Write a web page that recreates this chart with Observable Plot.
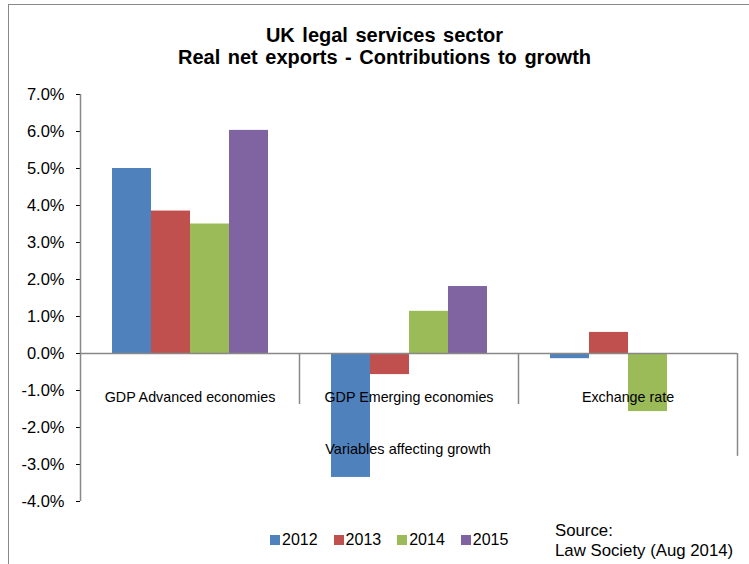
<!DOCTYPE html>
<html>
<head>
<meta charset="utf-8">
<script src="https://cdn.jsdelivr.net/npm/d3@7"></script>
<script src="https://cdn.jsdelivr.net/npm/@observablehq/plot@0.6"></script>
<style>
  body { margin: 0; background: #fff; font-family: "Liberation Sans", Arial, sans-serif; }
  #wrap { position: relative; width: 749px; height: 564px; overflow: hidden; background: #fff; }
  #frame { position: absolute; left: 8px; top: 4px; width: 800px; height: 640px; border-left: 1px solid #888; border-top: 1px solid #888; }
  #title { position: absolute; left: 20px; right: 0; top: 24px; text-align: center; font-weight: bold; font-size: 20px; line-height: 22px; word-spacing: 2px; color: #000; }
  #chart { position: absolute; left: 0; top: 80px; }
  #xtitle { position: absolute; left: 408px; top: 440px; transform: translateX(-50%); font-size: 14.5px; line-height: 18px; white-space: nowrap; color: #000; }
  #legend { position: absolute; left: 270px; top: 530px; display: flex; align-items: center; font-size: 16px; line-height: 20px; color: #000; }
  #legend .item { display: flex; align-items: center; margin-right: 16px; }
  #legend .sw { width: 10px; height: 10px; margin-right: 2px; }
  #source { position: absolute; left: 555px; top: 521px; font-size: 16.8px; line-height: 20px; color: #000; }
  #chart svg [aria-label="y-axis tick"] { stroke: #888; }
  #chart svg .tick line { stroke: #888; }
</style>
</head>
<body>
<div id="wrap">
  <div id="frame"></div>
  <div id="title"></div>
  <div id="chart"></div>
  <div id="xtitle"></div>
  <div id="legend"></div>
  <div id="source"></div>
</div>
<script>
const titleLines = ["UK legal services sector", "Real net exports - Contributions to growth"];
const axisTitle = "Variables affecting growth";
const sourceLines = ["Source:", "Law Society (Aug 2014)"];

const categories = ["GDP Advanced economies", "GDP Emerging economies", "Exchange rate"];
const years = ["2012", "2013", "2014", "2015"];
const v2012 = [5.0, -3.35, -0.14];
const v2013 = [3.85, -0.57, 0.57];
const v2014 = [3.5, 1.14, -1.57];
const v2015 = [6.03, 1.81, null];
const colors = ["#4F81BD", "#C0504D", "#9BBB59", "#8064A2"];
const yTicks = [-4, -3, -2, -1, 0, 1, 2, 3, 4, 5, 6, 7];

const series = {"2012": v2012, "2013": v2013, "2014": v2014, "2015": v2015};
const data = [];
years.forEach(yr => categories.forEach((c, i) => {
  const v = series[yr][i];
  if (v != null) data.push({cat: c, year: yr, value: v});
}));

document.getElementById("title").innerHTML = titleLines.map(t => `<div>${t}</div>`).join("");
document.getElementById("xtitle").textContent = axisTitle;
document.getElementById("source").innerHTML = sourceLines.map(t => `<div>${t}</div>`).join("");
document.getElementById("legend").innerHTML = years.map((y, i) =>
  `<div class="item"><span class="sw" style="background:${colors[i]}"></span><span>${y}</span></div>`).join("");

const W = 749, H = 484, mL = 80, mR = 12, mT = 14, mB = 63;
const facetW = (W - mL - mR) / categories.length;
const grey = "#888";

const chart = Plot.plot({
  width: W, height: H,
  marginLeft: mL, marginRight: mR, marginTop: mT, marginBottom: mB,
  style: {fontFamily: "Liberation Sans, Arial, sans-serif", fontSize: "16.5px", color: "#000", background: "transparent", overflow: "visible"},
  fx: {domain: categories, padding: 0, axis: null},
  x: {domain: years, paddingInner: 0, paddingOuter: 0.74, axis: null},
  y: {domain: [-4, 7], ticks: yTicks, tickFormat: d => d.toFixed(1) + "%", tickSize: 4, tickPadding: 12, label: null},
  color: {domain: years, range: colors},
  marks: [
    Plot.barY(data, {fx: "cat", x: "year", y: "value", fill: "year"}),
    Plot.ruleY([0], {stroke: grey, strokeWidth: 1.5}),
    Plot.ruleX([categories[0]], {fx: d => d, x: null, y1: -4, y2: 7, dx: -facetW / 2, stroke: grey, strokeWidth: 1.5}),
    Plot.ruleX(categories.slice(1), {fx: d => d, x: null, y1: 0, y2: -1.38, dx: -facetW / 2, stroke: grey, strokeWidth: 1.5}),
    Plot.ruleX([categories[categories.length - 1]], {fx: d => d, x: null, y1: 0, y2: -2.78, dx: facetW / 2, stroke: grey, strokeWidth: 1.5}),
    Plot.text(categories, {fx: d => d, text: d => d, y: 0, dy: 44, frameAnchor: "middle", fontSize: 14.3, fill: "#000"})
  ]
});
document.getElementById("chart").appendChild(chart);
</script>
</body>
</html>
